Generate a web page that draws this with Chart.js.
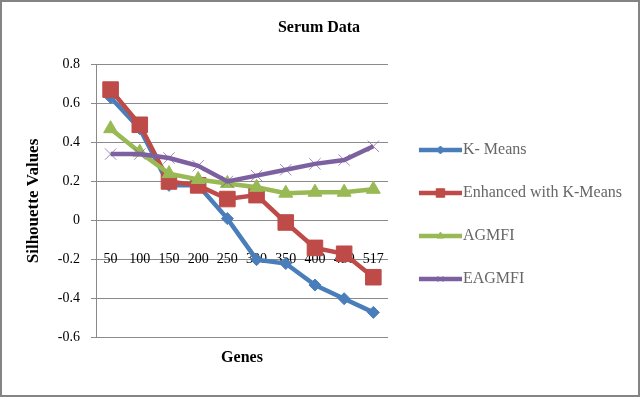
<!DOCTYPE html>
<html>
<head>
<meta charset="utf-8">
<script src="https://cdn.jsdelivr.net/npm/chart.js@4.4.1/dist/chart.umd.min.js"></script>
<style>
  html, body { margin: 0; padding: 0; background: #fff; }
  #wrap { width: 640px; height: 397px; }
</style>
</head>
<body>
<div id="wrap"><canvas id="serumChart"></canvas></div>
<script>
// Values
const genes = ['50', '100', '150', '200', '250', '300', '350', '400', '450', '517'];
const kMeans   = [0.63, 0.47, 0.18, 0.18, 0.01, -0.20, -0.22, -0.33, -0.40, -0.47];
const enhanced = [0.67, 0.49, 0.20, 0.18, 0.11, 0.13, -0.01, -0.14, -0.17, -0.29];
const agmfi    = [0.47, 0.35, 0.24, 0.21, 0.19, 0.17, 0.14, 0.145, 0.145, 0.16];
const eagmfi   = [0.34, 0.34, 0.32, 0.28, 0.20, 0.23, 0.26, 0.29, 0.31, 0.38];
const yMin = -0.6, yMax = 0.8, yStep = 0.2;

const serif = "'Liberation Serif', 'Times New Roman', serif";
const gridGray = '#8a8a8a';

// series look: colour, marker, marker size
const series = [
  { label: 'K- Means', data: kMeans, color: '#4a7ebb', style: 'rectRot', radius: 6, legendR: 4 },
  { label: 'Enhanced with K-Means', data: enhanced, color: '#be4b48', style: 'rect', radius: 11, legendR: 6 },
  { label: 'AGMFI', data: agmfi, color: '#98b954', style: 'triangle', radius: 8, legendR: 4 },
  { label: 'EAGMFI', data: eagmfi, color: '#7d60a0', style: 'crossRot', radius: 8, legendR: 4 }
];

// legend sample: thick line with the marker in the middle
function legendImage(s) {
  const c = document.createElement('canvas');
  c.width = 54; c.height = 16;
  const ctx = c.getContext('2d');
  ctx.strokeStyle = s.color;
  ctx.lineWidth = 4.5;
  ctx.beginPath();
  ctx.moveTo(11, 8);
  ctx.lineTo(54, 8);
  ctx.stroke();
  ctx.fillStyle = s.color;
  ctx.lineWidth = 1;
  Chart.helpers.drawPoint(ctx, { pointStyle: s.style, radius: s.legendR, rotation: 0, borderWidth: 1 }, 32.5, 8);
  return c;
}

const frame = {
  id: 'frame',
  // the right legend is capped at a quarter of the width by default, let it be wider
  beforeLayout(chart) {
    const lg = chart.legend;
    if (lg && !lg._wide) {
      const fit = lg.fit.bind(lg);
      lg.fit = function () { this.maxWidth = 270; fit(); };
      lg._wide = true;
    }
  },
  beforeDraw(chart) {
    const ctx = chart.ctx;
    ctx.save();
    ctx.fillStyle = '#fff';
    ctx.fillRect(0, 0, chart.width, chart.height);
    ctx.restore();
  },
  afterDraw(chart) {
    const ctx = chart.ctx;
    ctx.save();
    ctx.strokeStyle = '#848484';
    ctx.lineWidth = 2;
    ctx.strokeRect(1, 1, chart.width - 2, chart.height - 2);
    ctx.restore();
  }
};

new Chart(document.getElementById('serumChart'), {
  type: 'line',
  data: {
    labels: genes,
    datasets: series.map((s, i) => ({
      label: s.label,
      data: s.data,
      borderColor: s.color,
      backgroundColor: s.color,
      borderWidth: 4.5,
      pointStyle: s.style,
      pointRadius: s.radius,
      pointHoverRadius: s.radius,
      pointBackgroundColor: s.color,
      pointBorderColor: s.style === 'crossRot' ? 'rgba(125,96,160,0.75)' : s.color,
      pointBorderWidth: 1,
      tension: 0,
      fill: false,
      order: series.length - i
    }))
  },
  options: {
    responsive: true,
    maintainAspectRatio: false,
    animation: false,
    layout: { padding: { left: 6, right: 8, top: 0, bottom: 0 } },
    plugins: {
      tooltip: { enabled: false },
      title: {
        display: true,
        text: 'Serum Data',
        color: '#000',
        font: { family: serif, size: 16, weight: 'bold' },
        padding: { top: 18, bottom: 27 }
      },
      legend: {
        position: 'right',
        fullSize: false,
        title: { display: true, text: ' ', font: { size: 15 }, padding: { top: 9, bottom: 0 } },
        labels: {
          usePointStyle: true,
          pointStyleWidth: 40,
          padding: 27,
          color: '#000',
          font: { family: serif, size: 16 },
          generateLabels(chart) {
            return series.map((s, i) => ({
              text: s.label,
              pointStyle: legendImage(s),
              fillStyle: s.color,
              strokeStyle: s.color,
              lineWidth: 0,
              hidden: false,
              datasetIndex: i
            }));
          }
        }
      }
    },
    scales: {
      y: {
        min: yMin,
        max: yMax,
        ticks: {
          stepSize: yStep,
          padding: 11,
          color: '#000',
          font: { family: serif, size: 14 }
        },
        grid: { color: gridGray, lineWidth: 1, tickLength: 5, drawTicks: true },
        border: { display: true, color: gridGray, width: 1 },
        title: {
          display: true,
          text: 'Silhouette Values',
          color: '#000',
          font: { family: serif, size: 17, weight: 'bold' },
          padding: { top: 17, bottom: 0 }
        },
        afterFit(scale) { scale.width = 90; }
      },
      x: {
        type: 'category',
        offset: true,
        position: { y: -0.1 },
        grid: { display: false },
        border: { display: false },
        ticks: {
          color: '#000',
          maxRotation: 0,
          autoSkip: false,
          font: { family: serif, size: 14 }
        }
      },
      x2: {
        type: 'category',
        axis: 'x',
        position: 'bottom',
        offset: true,
        labels: genes,
        grid: { display: false },
        border: { display: false },
        ticks: { display: false },
        title: {
          display: true,
          text: 'Genes',
          color: '#000',
          font: { family: serif, size: 16, weight: 'bold' },
          padding: { top: 2, bottom: 30 }
        }
      }
    }
  },
  plugins: [frame]
});
</script>
</body>
</html>
